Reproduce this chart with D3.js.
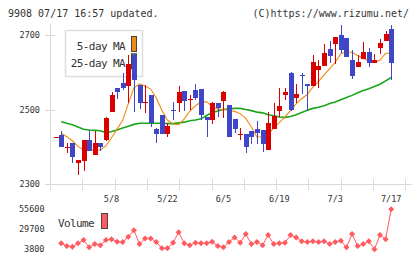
<!DOCTYPE html>
<html>
<head>
<meta charset="utf-8">
<script src="https://cdn.jsdelivr.net/npm/d3@7"></script>
<style>
body { margin: 0; background: #fff; }
text { font-family: "DejaVu Sans Mono", monospace; fill: #333; }
</style>
</head>
<body>
<div id="chart"></div>
<script>
// data (first candle has no volume / MA)
open_ = [2427, 2433, 2400, 2412, 2358, 2362, 2419, 2380, 2410, 2419, 2493,
	2558, 2572, 2563, 2648, 2567, 2519, 2540, 2449, 2487, 2436,
	2500, 2518, 2552, 2526, 2554, 2556, 2482, 2473, 2518, 2524,
	2513, 2475, 2434, 2435, 2444, 2449, 2446, 2392, 2448, 2498,
	2540, 2600, 2533, 2594, 2570, 2565, 2606, 2618, 2664, 2678,
	2700, 2693, 2634, 2616, 2638, 2656, 2626, 2665, 2686, 2718];
close_ = [2427, 2400, 2401, 2374, 2364, 2419, 2390, 2410, 2401, 2477, 2540,
	2549, 2560, 2624, 2581, 2518, 2521, 2464, 2436, 2436, 2457,
	2496, 2549, 2525, 2528, 2531, 2485, 2473, 2518, 2505, 2549,
	2427, 2448, 2436, 2399, 2427, 2439, 2409, 2464, 2484, 2511,
	2549, 2500, 2543, 2590, 2565, 2630, 2618, 2654, 2646, 2697,
	2661, 2643, 2592, 2629, 2656, 2627, 2633, 2679, 2703, 2627];
high_ = [2428, 2444, 2412, 2412, 2364, 2420, 2446, 2444, 2410, 2482, 2549,
	2558, 2599, 2648, 2651, 2567, 2567, 2540, 2452, 2487, 2464,
	2522, 2565, 2552, 2540, 2570, 2556, 2482, 2522, 2518, 2552,
	2514, 2475, 2450, 2435, 2444, 2470, 2446, 2494, 2518, 2558,
	2558, 2601, 2570, 2600, 2570, 2648, 2634, 2678, 2684, 2697,
	2729, 2693, 2661, 2648, 2683, 2667, 2651, 2690, 2713, 2729];
low_ = [2426, 2400, 2384, 2357, 2324, 2337, 2390, 2378, 2390, 2417, 2493,
	2529, 2554, 2518, 2494, 2502, 2491, 2453, 2412, 2436, 2428,
	2473, 2495, 2498, 2500, 2527, 2473, 2428, 2462, 2482, 2479,
	2427, 2437, 2419, 2385, 2409, 2409, 2388, 2392, 2448, 2482,
	2527, 2498, 2518, 2543, 2498, 2565, 2558, 2618, 2626, 2624,
	2653, 2641, 2583, 2616, 2636, 2616, 2626, 2651, 2686, 2579];
ma5 = [null, 2437, 2428, 2417, 2402, 2392, 2392, 2392, 2392, 2403, 2425,
	2449, 2472, 2517, 2559, 2570, 2564, 2556, 2532, 2499, 2472,
	2462, 2460, 2476, 2497, 2511, 2521, 2522, 2509, 2502, 2501,
	2499, 2496, 2490, 2477, 2454, 2427, 2427, 2433, 2452, 2466,
	2481, 2498, 2516, 2530, 2542, 2561, 2576, 2594, 2611, 2628,
	2651, 2657, 2654, 2646, 2639, 2631, 2627, 2634, 2652, 2652];
ma25 = [null, 2468, 2464, 2460, 2454, 2448, 2446, 2445, 2444, 2439, 2442,
	2446, 2451, 2456, 2461, 2464, 2464, 2464, 2464, 2464, 2463,
	2463, 2465, 2467, 2471, 2473, 2476, 2485, 2493, 2497, 2501,
	2503, 2504, 2504, 2501, 2498, 2494, 2492, 2487, 2484, 2481,
	2480, 2482, 2487, 2493, 2499, 2504, 2507, 2511, 2517, 2521,
	2527, 2533, 2539, 2546, 2552, 2557, 2563, 2569, 2578, 2587];
volume = [null, 11500, 8000, 7100, 11500, 15800, 6400, 10600, 9000, 15800, 16700,
	13600, 13200, 20000, 28600, 10600, 17900, 17900, 13200, 5100, 5100,
	12300, 26000, 11500, 9000, 12300, 11500, 11500, 13600, 8000, 6400,
	13200, 19200, 12300, 23500, 10600, 13200, 9000, 22200, 10600, 11500,
	12300, 22200, 19200, 14100, 13200, 14100, 13200, 14100, 10600, 13200,
	14900, 6400, 23500, 8000, 10600, 14100, 3800, 22200, 16700, 55600];

date_labels = ['5/8', '5/22', '6/5', '6/19', '7/3', '7/17'];
date_label_idx = [10, 20, 30, 40, 50, 60];
price_ticks = [2300, 2500, 2700];
volume_ticks = [3800, 29700, 55600];

// chart settings
chart_width = 420;
chart_height = 259;
up_color = '#d90000';
down_color = '#3f47c8';
axis_color = '#d9d9d9';
vol_color = '#ff5a60';

// scales
x_scale = d3.scaleLinear()
	.domain([0, open_.length - 1])
	.range([55.6, 391.2]);

y_scale = d3.scaleLinear()
	.domain([2300, 2730])
	.range([184.3, 24.3]);

y_vol = d3.scaleLinear()
	.domain([3800, 55600])
	.range([249.3, 209.3]);

// ticks on the bottom axis are just even divisions
x_grid = d3.scaleLinear()
	.domain([0, 11])
	.range([50, 405.3]);

var svg = d3.select('#chart')
	.append('svg')
	.attr('width', chart_width)
	.attr('height', chart_height);

// header
svg.append('text')
	.attr('x', 8)
	.attr('y', 16.5)
	.style('font-size', '10px')
	.text('9908 07/17 16:57 updated.');

svg.append('text')
	.attr('x', 409)
	.attr('y', 16.5)
	.attr('text-anchor', 'end')
	.style('font-size', '10px')
	.text('(C)https://www.rizumu.net/');

// axes
var axes = svg.append('g')
	.attr('stroke', axis_color)
	.attr('shape-rendering', 'crispEdges');

axes.append('line')
	.attr('x1', 50.5).attr('x2', 50.5)
	.attr('y1', 24).attr('y2', 184.5);

axes.append('line')
	.attr('x1', 50).attr('x2', 412)
	.attr('y1', 184.5).attr('y2', 184.5);

axes.selectAll('.yt')
	.data(price_ticks)
	.enter()
	.append('line')
	.attr('x1', 45).attr('x2', 55)
	.attr('y1', (d) => Math.round(y_scale(d)) + 0.5)
	.attr('y2', (d) => Math.round(y_scale(d)) + 0.5);

axes.selectAll('.xt')
	.data(d3.range(12))
	.enter()
	.append('line')
	.attr('x1', (d) => Math.round(x_grid(d)) + 0.5)
	.attr('x2', (d) => Math.round(x_grid(d)) + 0.5)
	.attr('y1', 179).attr('y2', 190);

svg.selectAll('.ylab')
	.data(price_ticks)
	.enter()
	.append('text')
	.attr('x', 40)
	.attr('y', (d) => y_scale(d) + 3)
	.attr('text-anchor', 'end')
	.style('font-size', '8.5px')
	.text((d) => d);

svg.selectAll('.xlab')
	.data(date_labels)
	.enter()
	.append('text')
	.attr('x', (d, i) => x_scale(date_label_idx[i]))
	.attr('y', 201.5)
	.attr('text-anchor', 'middle')
	.style('font-size', '8.5px')
	.text((d) => d);

// legend (drawn under the candles)
svg.append('rect')
	.attr('x', 65.5).attr('y', 30.5)
	.attr('width', 77).attr('height', 46)
	.attr('fill', '#fff')
	.attr('stroke', '#ddd')
	.attr('stroke-width', 1.5);

legend_names = ['5-day MA', '25-day MA'];
legend_colors = ['#f08a12', '#1aa51a'];

svg.selectAll('.legtext')
	.data(legend_names)
	.enter()
	.append('text')
	.attr('x', 125)
	.attr('y', (d, i) => 50 + i * 17)
	.attr('text-anchor', 'end')
	.style('font-size', '11px')
	.style('letter-spacing', '-0.6px')
	.text((d) => d);

svg.selectAll('.legsw')
	.data(legend_colors)
	.enter()
	.append('rect')
	.attr('x', 131.5)
	.attr('y', (d, i) => 36.5 + i * 17.3)
	.attr('width', 5).attr('height', 15)
	.attr('fill', (d) => d)
	.attr('stroke', '#444');

// moving averages
var line_ma = (arr) => d3.line()
	.defined((d) => d != null)
	.x((d, i) => x_scale(i))
	.y((d) => y_scale(d))(arr);

svg.append('path')
	.attr('d', line_ma(ma25))
	.attr('fill', 'none')
	.attr('stroke', legend_colors[1])
	.attr('stroke-width', 1.6);

svg.append('path')
	.attr('d', line_ma(ma5))
	.attr('fill', 'none')
	.attr('stroke', legend_colors[0])
	.attr('stroke-width', 1.1);

// candles
var candles = svg.selectAll('.candle')
	.data(open_)
	.enter()
	.append('g')
	.attr('shape-rendering', 'crispEdges')
	.attr('fill', (d, i) => close_[i] >= d ? up_color : down_color)
	.attr('stroke', (d, i) => close_[i] >= d ? up_color : down_color);

candles.append('line')
	.attr('x1', (d, i) => Math.round(x_scale(i)) + 0.5)
	.attr('x2', (d, i) => Math.round(x_scale(i)) + 0.5)
	.attr('y1', (d, i) => y_scale(high_[i]))
	.attr('y2', (d, i) => y_scale(low_[i]));

candles.append('rect')
	.attr('stroke', 'none')
	.attr('x', (d, i) => Math.round(x_scale(i)) - 2)
	.attr('width', 5)
	.attr('y', (d, i) => y_scale(Math.max(d, close_[i])))
	.attr('height', (d, i) => Math.max(1, Math.abs(y_scale(d) - y_scale(close_[i]))));

// volume panel
svg.selectAll('.vlab')
	.data(volume_ticks)
	.enter()
	.append('text')
	.attr('x', 44.5)
	.attr('y', (d) => y_vol(d) + 3)
	.attr('text-anchor', 'end')
	.style('font-size', '8.5px')
	.text((d) => d);

svg.append('text')
	.attr('x', 58)
	.attr('y', 226.5)
	.style('font-size', '11px')
	.style('letter-spacing', '-0.6px')
	.text('Volume');

svg.append('rect')
	.attr('x', 101.5).attr('y', 213.5)
	.attr('width', 6).attr('height', 15)
	.attr('fill', vol_color)
	.attr('stroke', '#444');

var vol_line = d3.line()
	.defined((d) => d != null)
	.x((d, i) => x_scale(i))
	.y((d) => y_vol(d));

svg.append('path')
	.attr('d', vol_line(volume))
	.attr('fill', 'none')
	.attr('stroke', vol_color)
	.attr('stroke-width', 1);

// keep the original index for x
vol_idx = d3.range(volume.length).filter((i) => volume[i] != null);

svg.selectAll('.vpt')
	.data(vol_idx)
	.enter()
	.append('path')
	.attr('d', d3.symbol().type(d3.symbolSquare).size(18))
	.attr('transform', (i) => 'translate(' + x_scale(i) + ',' + y_vol(volume[i]) + ') rotate(45)')
	.attr('fill', vol_color);
</script>
</body>
</html>
